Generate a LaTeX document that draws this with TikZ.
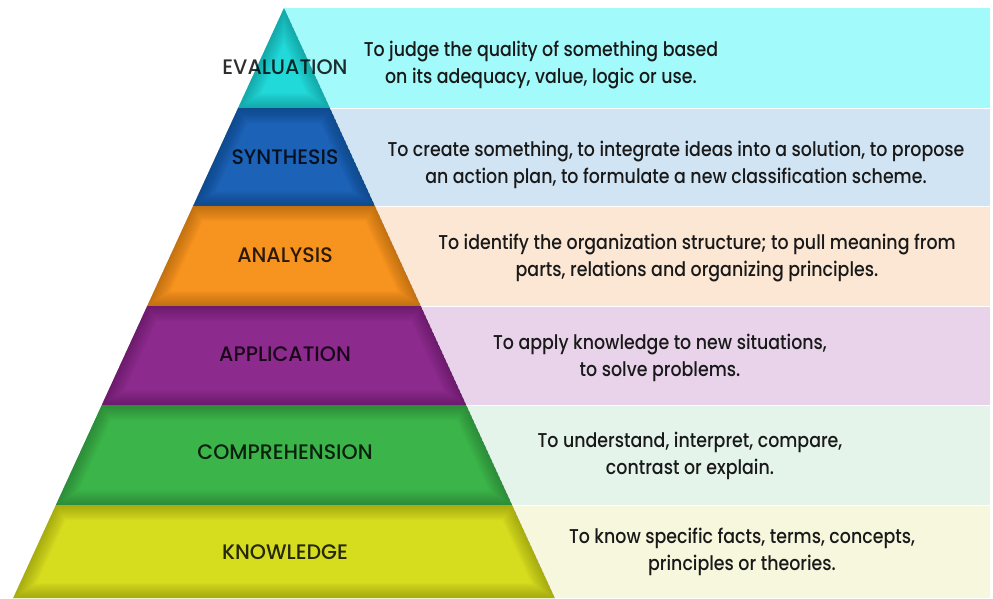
\documentclass[tikz,border=0pt]{standalone}
\usepackage{fontspec}
\setmainfont{Poppins}
\newfontfamily\levelfont[FakeStretch=0.98, UprightFont={* Medium}]{Poppins}
\newfontfamily\descfont[FakeStretch=0.87, UprightFont={* Medium}]{Poppins}
\usepackage{tikz}

\definecolor{evalfill}{HTML}{22D9DA}
\definecolor{synfill}{HTML}{1C62B6}
\definecolor{anafill}{HTML}{F7931F}
\definecolor{appfill}{HTML}{8D2A8E}
\definecolor{compfill}{HTML}{3BB54A}
\definecolor{knowfill}{HTML}{D6DC1E}
\definecolor{evalbg}{HTML}{A2FAFB}
\definecolor{synbg}{HTML}{D1E4F3}
\definecolor{anabg}{HTML}{FCE7D4}
\definecolor{appbg}{HTML}{E8D3EA}
\definecolor{compbg}{HTML}{E4F4EA}
\definecolor{knowbg}{HTML}{F7F7DE}

\begin{document}
\begin{tikzpicture}[x=1pt, y=-1pt,
  level/.style={font=\levelfont\fontsize{21}{24}\selectfont, text=black, text opacity=0.82},
  desc/.style={font=\descfont\fontsize{20}{27}\selectfont, align=center, text=black!90}
]
\useasboundingbox (0,0) rectangle (993,598);
\fill[white] (0,0) rectangle (993,598);

\fill[evalbg] (284,8) rectangle (990,107.5);
\fill[synbg] (284,108.5) rectangle (990,205.5);
\fill[anabg] (284,206.5) rectangle (990,305.5);
\fill[appbg] (284,306.5) rectangle (990,404.5);
\fill[compbg] (284,405.5) rectangle (990,504.5);
\fill[knowbg] (284,505.5) rectangle (990,598);

\foreach \tl/\tr/\yt/\bl/\br/\yb/\c in {
  284/284/8/238.1/329.9/108/evalfill,
  238.1/329.9/108/193.1/374.9/206/synfill,
  193.1/374.9/206/147.2/420.8/306/anafill,
  147.2/420.8/306/101.8/466.2/405/appfill,
  101.8/466.2/405/55.9/512.1/505/compfill,
  55.9/512.1/505/13.2/554.8/598/knowfill}{
  \begin{scope}
    \clip (\tl,\yt) -- (\tr,\yt) -- (\br,\yb) -- (\bl,\yb) -- cycle;
    \fill[\c] (\tl,\yt) -- (\tr,\yt) -- (\br,\yb) -- (\bl,\yb) -- cycle;
    % soft darker rim along the edges
    \foreach \w in {2,4,...,30}
      \draw[\c!55!black, line width=\w pt, opacity=0.035, line join=round] (\tl,\yt) -- (\tr,\yt) -- (\br,\yb) -- (\bl,\yb) -- cycle;
  \end{scope}
}

\node[level] (eval) at (285,67) {EVALUATION};
\node[level] (syn) at (285,157) {SYNTHESIS};
\node[level] (ana) at (285,255) {ANALYSIS};
\node[level] (app) at (285,354) {APPLICATION};
\node[level] (comp) at (285,452) {COMPREHENSION};
\node[level] (know) at (285,552) {KNOWLEDGE};

\node[desc] (evaldesc) at (541,65) {To judge the quality of something based\\on its adequacy, value, logic or use.};
\node[desc] (syndesc) at (676,165) {To create something, to integrate ideas into a solution, to propose\\an action plan, to formulate a new classification scheme.};
\node[desc] (anadesc) at (697,258) {To identify the organization structure; to pull meaning from\\parts, relations and organizing principles.};
\node[desc] (appdesc) at (660,358) {To apply knowledge to new situations,\\to solve problems.};
\node[desc] (compdesc) at (690,456) {To understand, interpret, compare,\\contrast or explain.};
\node[desc] (knowdesc) at (742,552) {To know specific facts, terms, concepts,\\principles or theories.};
\end{tikzpicture}
\end{document}
